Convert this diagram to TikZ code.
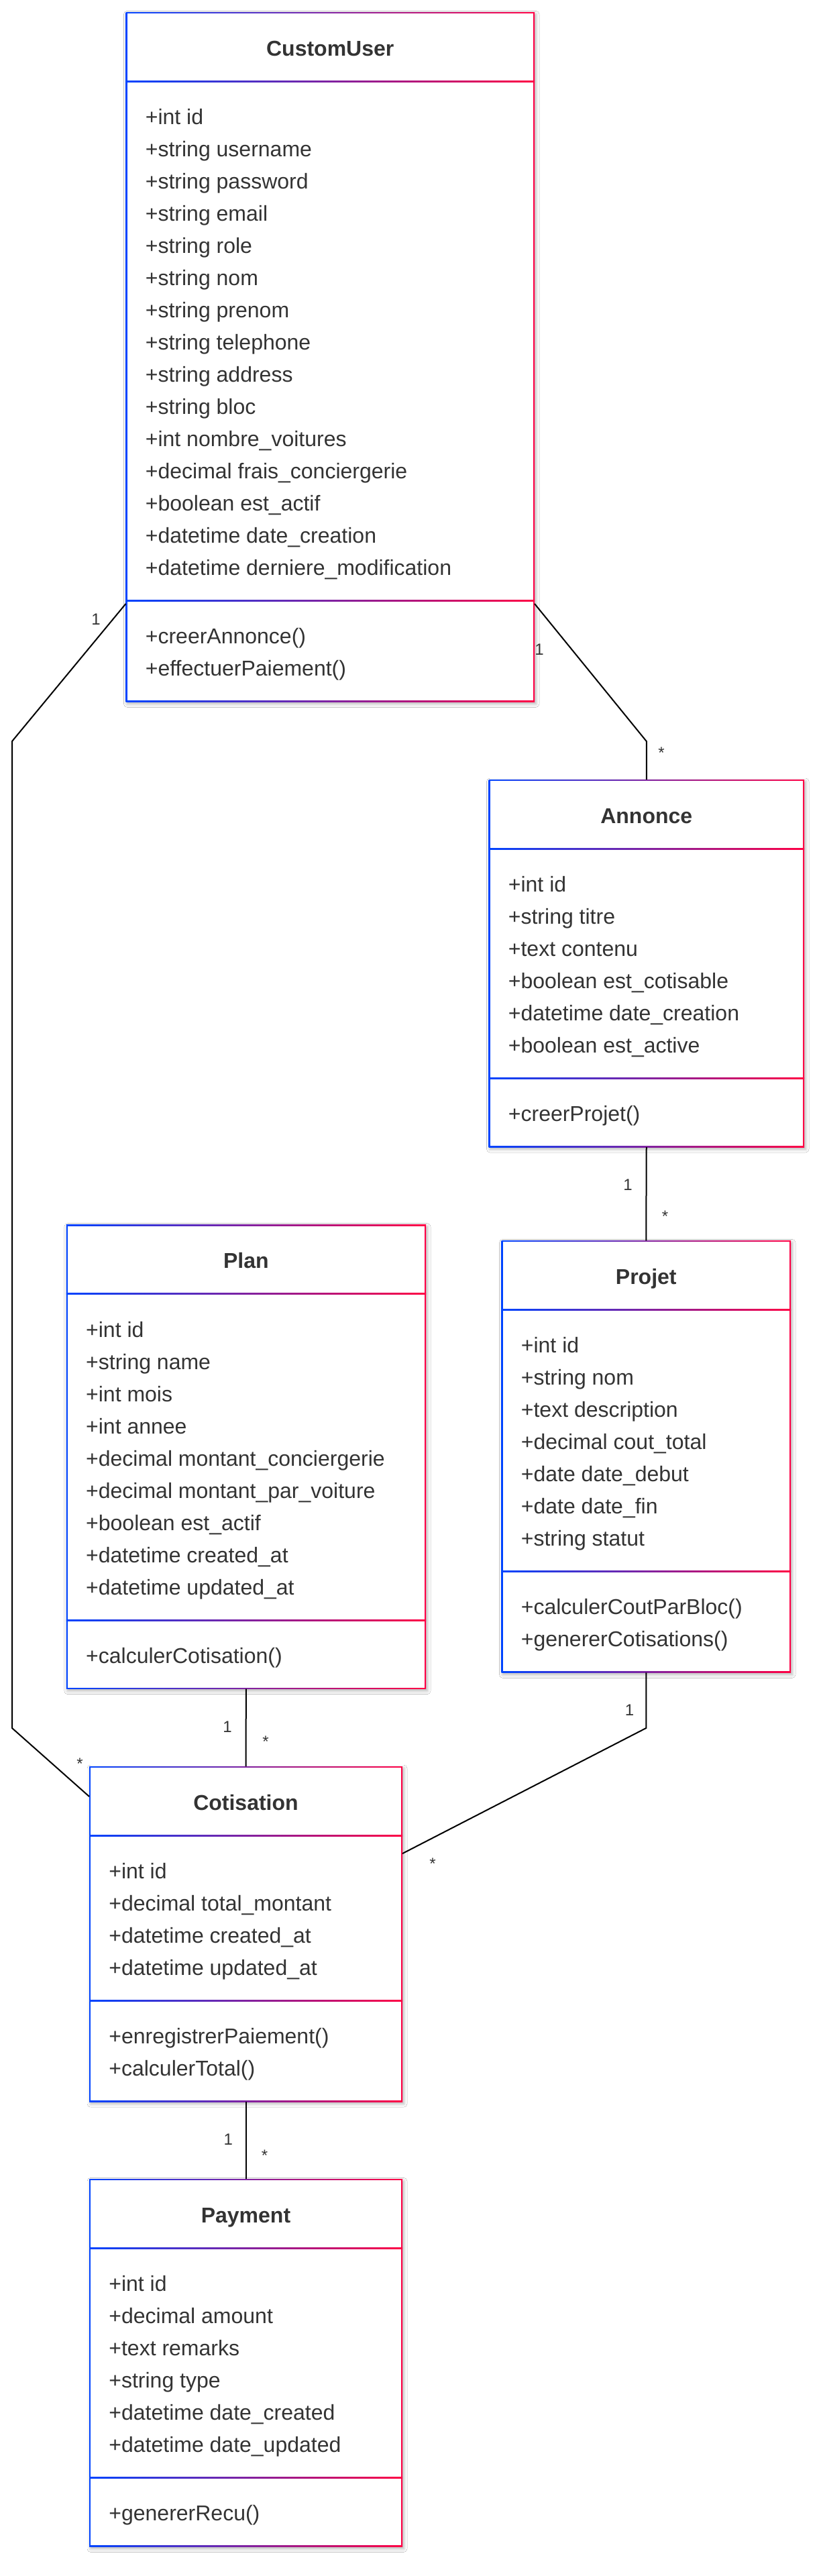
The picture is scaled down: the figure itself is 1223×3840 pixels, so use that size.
\documentclass[tikz,border=0pt]{standalone}
\usepackage{fontspec}
\setmainfont{Liberation Sans}
\usetikzlibrary{calc,shadows.blur}
\definecolor{cb}{HTML}{0044FF}
\definecolor{cr}{HTML}{FF0044}
\definecolor{tx}{HTML}{333333}
\tikzset{
 bordergrad/.style={left color=cb, right color=cr},
 classbox/.style={inner sep=0pt, outer sep=0pt, draw=none, rectangle},
 attr/.style={anchor=base west, inner sep=0pt, text=tx, font=\fontsize{16}{24}\selectfont},
 ttl/.style={anchor=base, inner sep=0pt, text=tx, font=\fontsize{16}{24}\selectfont\bfseries},
 mult/.style={anchor=base, inner sep=0pt, text=tx, font=\fontsize{12}{14}\selectfont},
 conn/.style={draw=black, line width=1pt},
 boxshadow/.style={blur shadow={shadow xshift=1pt, shadow yshift=-1.5pt, shadow blur radius=2.5pt, shadow opacity=30}}
}
\newcommand\umlbox[9]{%
 \pgfmathsetmacro\udA{#4+103}%
 \pgfmathsetmacro\udB{\udA+64.5+48*(#7-1)+38}%
 \pgfmathsetmacro\ubot{\udB+64+48*(#9-1)+38.5}%
 \pgfmathsetmacro\uwid{(#3-#2)*0.5}%
 \pgfmathsetmacro\uhei{(\ubot-#4)*0.5}%
 \node[classbox, minimum width=\uwid pt, minimum height=\uhei pt, anchor=north west] (#1) at (#2,#4) {};
 \path[boxshadow, fill=white] (#2,#4) rectangle (#3,\ubot);
 \shade[bordergrad] (#2,#4) rectangle (#3,\ubot);
 \fill[white] (#2+2,#4+2) rectangle (#3-2,\ubot-2);
 \shade[bordergrad] (#2,\udA-1) rectangle (#3,\udA+1);
 \shade[bordergrad] (#2,\udB-1) rectangle (#3,\udB+1);
 \node[ttl] (#1-title) at ({(#2+#3)/2},#4+65) {#5};
 \foreach \a [count=\i from 0] in {#6} {\node[attr] (#1-a\i) at (#2+29,{\udA+64.5+48*\i}) {\a};}
 \foreach \a [count=\i from 0] in {#8} {\node[attr] (#1-m\i) at (#2+29,{\udB+64+48*\i}) {\a};}
}
\begin{document}
\begin{tikzpicture}[x=0.5pt,y=-0.5pt]
\fill[white] (0,0) rectangle (1223,3840);
\useasboundingbox (0,0) rectangle (1223,3840);

\umlbox{cu}{187.5}{797}{18.3}{CustomUser}{+int id,+string username,+string password,+string email,+string role,+string nom,+string prenom,+string telephone,+string address,+string bloc,+int nombre\_voitures,+decimal frais\_conciergerie,+boolean est\_actif,+datetime date\_creation,+datetime derniere\_modification}{15}{+creerAnnonce(),+effectuerPaiement()}{2}

\umlbox{an}{728.5}{1199}{1162}{Annonce}{+int id,+string titre,+text contenu,+boolean est\_cotisable,+datetime date\_creation,+boolean est\_active}{6}{+creerProjet()}{1}

\umlbox{pl}{98.8}{635}{1825.6}{Plan}{+int id,+string name,+int mois,+int annee,+decimal montant\_conciergerie,+decimal montant\_par\_voiture,+boolean est\_actif,+datetime created\_at,+datetime updated\_at}{9}{+calculerCotisation()}{1}

\umlbox{pj}{747.5}{1179}{1849.3}{Projet}{+int id,+string nom,+text description,+decimal cout\_total,+date date\_debut,+date date\_fin,+string statut}{7}{+calculerCoutParBloc(),+genererCotisations()}{2}

\umlbox{co}{133}{600}{2633}{Cotisation}{+int id,+decimal total\_montant,+datetime created\_at,+datetime updated\_at}{4}{+enregistrerPaiement(),+calculerTotal()}{2}

\umlbox{pa}{133}{600}{3248.3}{Payment}{+int id,+decimal amount,+text remarks,+string type,+datetime date\_created,+datetime date\_updated}{6}{+genererRecu()}{1}

% connectors
\coordinate (bendL1) at (18,1105);
\coordinate (bendL2) at (18,2576);
\draw[conn] ($(cu.south west)+(0,-146.3)$) -- (bendL1) -- (bendL2) -- ($(co.north west)+(0,45)$);
\draw[conn] ($(cu.south east)+(0,-146.3)$) -- ($(an.north)+(0,-57)$) -- (an.north);
\draw[conn] (an.south) -- (pj.north);
\draw[conn] (pl.south) -- (co.north);
\draw[conn] (pj.south) -- ($(pj.south)+(0,82.7)$) -- ($(co.north east)+(0,130)$);
\draw[conn] (co.south) -- (pa.north);

% multiplicities
\node[mult] (m1) at (143,931.7) {1};
\node[mult] (m2) at (804,976) {1};
\node[mult] (m3) at (986,1130) {*};
\node[mult] (m4) at (936,1774) {1};
\node[mult] (m5) at (991.6,1821) {*};
\node[mult] (m6) at (339,2582) {1};
\node[mult] (m7) at (396,2604) {*};
\node[mult] (m8) at (119,2637) {*};
\node[mult] (m9) at (938.5,2557) {1};
\node[mult] (m10) at (645,2786) {*};
\node[mult] (m11) at (340.4,3197) {1};
\node[mult] (m12) at (394.6,3221) {*};
\end{tikzpicture}
\end{document}
